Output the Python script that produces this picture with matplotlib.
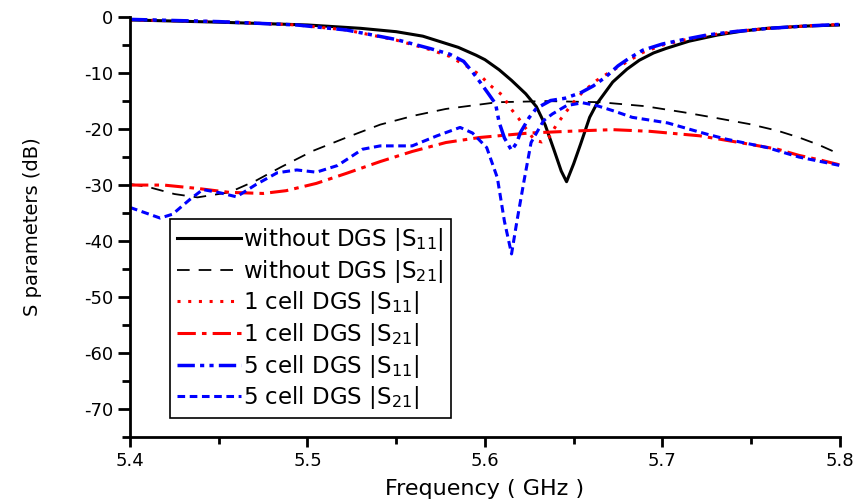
import matplotlib

matplotlib.use("Agg")
import matplotlib.pyplot as plt
from matplotlib.ticker import MultipleLocator

# without DGS |S11|
f_ref_s11 = [5.40, 5.45, 5.50, 5.53, 5.55, 5.565, 5.575, 5.585, 5.595, 5.600, 5.608,
             5.615, 5.623, 5.629, 5.634, 5.639, 5.643, 5.646, 5.650, 5.654, 5.659,
             5.663, 5.672, 5.680, 5.687, 5.695, 5.702, 5.715, 5.731, 5.745, 5.759,
             5.78, 5.80]
ref_s11 = [-0.5, -0.9, -1.4, -2.0, -2.6, -3.4, -4.4, -5.4, -6.8, -7.6, -9.4,
           -11.3, -13.7, -16.0, -19.3, -23.8, -27.5, -29.4, -26.2, -22.6, -17.9,
           -15.5, -11.6, -9.3, -7.7, -6.4, -5.6, -4.3, -3.2, -2.5, -2.0,
           -1.6, -1.4]

# without DGS |S21|
f_ref_s21 = [5.40, 5.411, 5.425, 5.438, 5.456, 5.471, 5.485, 5.503, 5.522, 5.541,
             5.56, 5.578, 5.607, 5.635, 5.665, 5.69, 5.712, 5.73, 5.749, 5.765,
             5.777, 5.788, 5.80]
ref_s21 = [-29.8, -30.4, -31.6, -32.2, -31.3, -29.2, -26.8, -23.9, -21.5, -19.2,
           -17.6, -16.4, -15.2, -15.0, -15.2, -15.9, -17.0, -18.0, -19.1, -20.3,
           -21.5, -22.8, -24.5]

# 1 cell DGS |S11|
f_c1_s11 = [5.40, 5.45, 5.494, 5.522, 5.55, 5.569, 5.58, 5.59, 5.597, 5.603, 5.610,
            5.614, 5.619, 5.624, 5.628, 5.632, 5.636, 5.640, 5.645, 5.650, 5.655,
            5.663, 5.672, 5.680, 5.689, 5.70, 5.712, 5.725, 5.74, 5.76, 5.78, 5.80]
c1_s11 = [-0.5, -0.8, -1.4, -2.3, -4.1, -5.8, -7.0, -8.8, -10.3, -12.2, -14.0,
          -16.1, -18.1, -20.3, -22.0, -22.3, -21.5, -19.4, -17.2, -15.2, -13.4,
          -11.3, -9.5, -8.0, -6.3, -5.0, -4.1, -3.3, -2.6, -2.0, -1.6, -1.3]

# 1 cell DGS |S21|
f_c1_s21 = [5.40, 5.419, 5.438, 5.456, 5.475, 5.488, 5.505, 5.522, 5.541, 5.559,
            5.578, 5.597, 5.625, 5.654, 5.672, 5.693, 5.721, 5.749, 5.765, 5.777,
            5.79, 5.80]
c1_s21 = [-30.0, -30.0, -30.6, -31.3, -31.5, -31.0, -29.7, -27.9, -25.8, -24.0,
          -22.4, -21.5, -20.7, -20.3, -20.1, -20.4, -21.2, -22.7, -23.6, -24.7,
          -25.6, -26.4]

# 5 cell DGS |S11|
f_c5_s11 = [5.40, 5.45, 5.494, 5.522, 5.55, 5.569, 5.58, 5.588, 5.593, 5.597, 5.602,
            5.606, 5.608, 5.611, 5.615, 5.618, 5.620, 5.625, 5.629, 5.637, 5.645,
            5.654, 5.661, 5.668, 5.675, 5.681, 5.689, 5.700, 5.712, 5.725, 5.740,
            5.76, 5.78, 5.80]
c5_s11 = [-0.4, -0.8, -1.4, -2.3, -4.0, -5.6, -6.6, -7.9, -9.8, -11.5, -13.7,
          -15.5, -18.8, -21.6, -23.8, -22.4, -20.6, -17.9, -16.3, -14.9, -14.5,
          -13.5, -12.3, -10.7, -8.7, -7.4, -5.9, -4.8, -4.0, -3.2, -2.6,
          -2.0, -1.6, -1.3]

# 5 cell DGS |S21|
f_c5_s21 = [5.40, 5.409, 5.417, 5.424, 5.434, 5.441, 5.451, 5.460, 5.471, 5.483,
            5.494, 5.505, 5.517, 5.531, 5.541, 5.559, 5.573, 5.586, 5.593, 5.601,
            5.607, 5.611, 5.615, 5.618, 5.622, 5.626, 5.633, 5.638, 5.646, 5.655,
            5.663, 5.672, 5.683, 5.703, 5.715, 5.725, 5.736, 5.759, 5.777, 5.80]
c5_s21 = [-34.0, -35.0, -35.9, -35.2, -32.5, -30.8, -31.4, -32.1, -29.9, -27.8,
          -27.3, -27.7, -26.5, -23.6, -23.0, -23.0, -21.2, -19.7, -20.7, -23.3,
          -28.7, -36.5, -42.3, -36.5, -29.3, -22.4, -18.5, -17.3, -15.8, -15.3,
          -15.8, -16.7, -17.9, -18.9, -20.0, -20.9, -21.8, -23.3, -25.0, -26.5]

plt.rcParams["font.family"] = ["DejaVu Sans"]
plt.rcParams["axes.unicode_minus"] = False

fig = plt.figure(figsize=(8.57, 5.04), dpi=100)
ax = fig.add_axes([0.1517, 0.133, 0.8283, 0.833])

ax.plot(f_ref_s11, ref_s11, color="black", lw=2.2, ls="-",
        label=r"without DGS |S$_{11}$|")
ax.plot(f_ref_s21, ref_s21, color="black", lw=1.3, ls=(0, (7, 5)),
        label=r"without DGS |S$_{21}$|")
ax.plot(f_c1_s11, c1_s11, color="red", lw=2.2, ls=(0, (1, 2.5)),
        label=r"1 cell DGS |S$_{11}$|")
ax.plot(f_c1_s21, c1_s21, color="red", lw=2.2, ls=(0, (6, 2, 1.5, 2)),
        label=r"1 cell DGS |S$_{21}$|")
ax.plot(f_c5_s11, c5_s11, color="blue", lw=2.5, ls=(0, (5, 1.5, 1.2, 1.5, 1.2, 1.5)),
        label=r"5 cell DGS |S$_{11}$|")
ax.plot(f_c5_s21, c5_s21, color="blue", lw=2.2, ls=(0, (2.5, 1.5)),
        label=r"5 cell DGS |S$_{21}$|")

ax.set_xlim(5.4, 5.8)
ax.set_ylim(-75, 0)
ax.xaxis.set_minor_locator(MultipleLocator(0.05))
ax.yaxis.set_major_locator(MultipleLocator(10))
ax.yaxis.set_minor_locator(MultipleLocator(5))
ax.set_xticks([5.4, 5.5, 5.6, 5.7, 5.8])
ax.set_xticklabels(["5.4", "5.5", "5.6", "5.7", "5.8"])

for side in ("top", "right"):
    ax.spines[side].set_visible(False)
for side in ("left", "bottom"):
    ax.spines[side].set_linewidth(2)

ax.tick_params(axis="y", which="major", direction="out", length=9, width=2,
               labelsize=13, pad=3)
ax.tick_params(axis="y", which="minor", direction="out", length=6, width=2)
ax.tick_params(axis="x", which="major", direction="out", length=7, width=2,
               labelsize=13, pad=4)
ax.tick_params(axis="x", which="minor", direction="out", length=5, width=2)

ax.set_xlabel("Frequency ( GHz )", fontsize=16, labelpad=6)
ax.set_ylabel("S parameters (dB)", fontsize=14, labelpad=30)

leg = ax.legend(loc="lower left", bbox_to_anchor=(0.056, 0.045), borderaxespad=0,
                fontsize=16.5, handlelength=2.8, handletextpad=0.1,
                labelspacing=0.2, borderpad=0.3, fancybox=False,
                edgecolor="black", framealpha=1)
leg.get_frame().set_linewidth(1.2)

fig.savefig("out.png", dpi=100)
